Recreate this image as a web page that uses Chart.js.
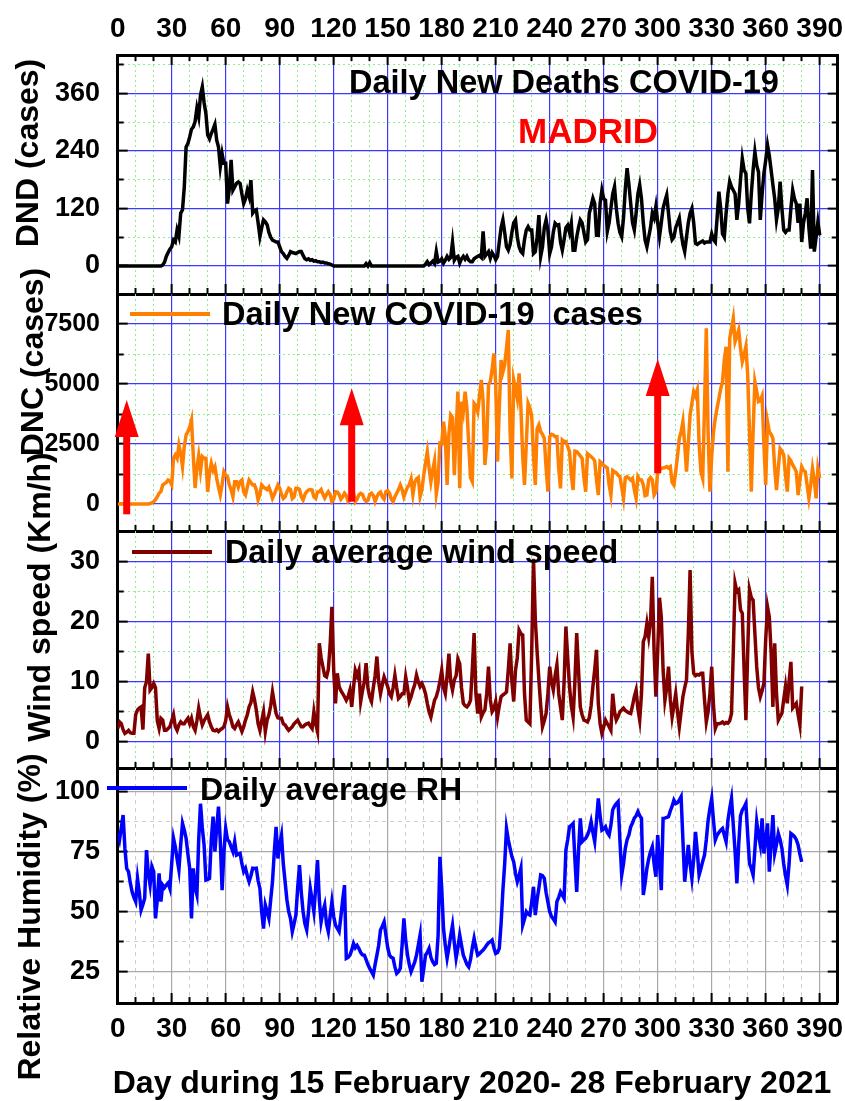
<!DOCTYPE html>
<html>
<head>
<meta charset="utf-8">
<script src="https://cdn.jsdelivr.net/npm/chart.js@4.4.1/dist/chart.umd.min.js"></script>
<style>
  html, body { margin: 0; padding: 0; background: #fff; }
  #wrap { position: relative; width: 845px; height: 1101px; }
  #wrap canvas { position: absolute; left: 0; top: 0; }
</style>
</head>
<body>
<div id="wrap">
  <canvas id="dnd" width="845" height="1101"></canvas>
  <canvas id="dnc" width="845" height="1101"></canvas>
  <canvas id="wind" width="845" height="1101"></canvas>
  <canvas id="rh" width="845" height="1101"></canvas>
</div>
<script>
// day axis
const dayTicks = [0, 30, 60, 90, 120, 150, 180, 210, 240, 270, 300, 330, 360, 390];
const dayMinorTicks = [10, 20, 40, 50, 70, 80, 100, 110, 130, 140, 160, 170, 190, 200, 220, 230,
  250, 260, 280, 290, 310, 320, 340, 350, 370, 380];

// y ticks per panel
const dndTicks = [0, 120, 240, 360];
const dndMinorTicks = [60, 180, 300, 420];
const dncTicks = [0, 2500, 5000, 7500];
const dncMinorTicks = [1250, 3750, 6250];
const windTicks = [0, 10, 20, 30];
const windMinorTicks = [5, 15, 25];
const rhTicks = [25, 50, 75, 100];
const rhMinorTicks = [37.5, 62.5, 87.5];

// daily new deaths, day 0..390
const dnd = [
  0,0,0,0,0,0,0,0,0,0,
  0,0,0,0,0,0,0,0,0,0,
  0,0,0,0,0,2,8,20,28,35,
  40,54,50,75,62,110,117,165,248,255,
  269,285,290,301,329,311,356,373,340,318,
  273,265,276,285,295,262,248,207,234,214,
  214,130,160,221,158,165,172,175,172,150,
  130,140,158,145,179,110,115,117,90,61,
  80,96,92,86,70,60,54,52,50,50,
  40,30,26,20,16,22,30,28,27,26,
  28,30,30,22,15,13,15,12,13,10,
  11,9,9,7,8,6,6,5,4,2,
  0,0,0,0,0,0,0,0,0,0,
  0,0,0,0,0,0,0,0,5,0,
  7,0,0,0,0,0,0,0,0,0,
  0,0,0,0,0,0,0,0,0,0,
  0,0,0,0,0,0,0,0,0,0,
  0,4,9,3,6,10,5,30,8,10,
  15,6,12,20,14,18,50,12,18,20,
  6,15,20,14,20,12,9,9,15,18,
  20,22,18,72,20,25,30,16,28,22,
  13,20,50,80,96,70,40,33,45,70,
  90,96,60,40,30,26,55,75,82,75,
  75,26,30,60,106,20,40,80,96,75,
  26,40,70,89,85,86,50,33,55,80,
  85,70,89,33,33,60,80,96,90,70,
  50,55,110,125,141,130,64,64,130,158,
  140,137,72,90,120,150,165,120,89,70,
  61,100,160,204,170,130,90,75,110,150,
  169,140,90,54,40,60,80,110,100,124,
  90,61,90,120,135,148,110,72,55,60,
  80,90,100,70,45,30,60,90,110,120,
  90,47,45,48,50,52,48,50,50,50,
  67,55,50,100,155,120,67,60,110,150,
  176,165,158,150,96,130,180,224,200,193,
  120,89,150,200,238,210,196,96,150,193,
  220,252,230,200,169,140,96,120,176,120,
  75,70,75,75,120,158,140,130,90,130,
  50,90,110,141,80,36,200,30,60,92,
  64
];

// daily new cases, day 0..390
const dnc = [
  0,0,0,0,0,0,0,0,0,0,
  0,0,0,0,0,0,0,0,20,50,
  100,180,305,450,520,792,850,900,1000,950,
  800,1903,2042,1900,2458,2100,1556,2400,2875,3014,
  3200,3500,2000,667,1500,2014,1375,1972,1903,1903,
  500,1300,1694,1400,1556,1069,700,375,800,1347,
  1200,1139,800,600,305,931,931,700,931,1000,
  500,375,700,1000,900,792,800,600,167,400,
  792,700,653,600,700,500,236,400,600,792,
  653,400,229,300,500,653,600,229,300,653,
  653,600,300,167,400,514,583,600,583,300,
  236,500,514,600,400,250,400,514,400,104,
  200,514,500,400,200,300,450,350,97,150,
  400,450,97,200,380,444,400,200,104,150,
  400,450,350,104,300,444,500,300,200,514,
  560,450,200,97,300,450,600,792,600,300,
  514,700,800,1042,400,900,1042,1100,305,600,
  1200,1700,2181,1500,931,1400,1800,417,900,2528,
  2500,3431,2800,792,2900,3708,3600,1200,3000,4681,
  653,4264,3847,4681,4000,2500,1100,931,4194,4100,
  3847,4500,5167,4300,1625,2500,4958,5097,5600,6278,
  5000,1764,4000,6000,5500,5792,6500,7250,3000,1069,
  5167,4800,4389,5444,4000,2000,800,2500,4194,4000,
  3667,2000,792,3125,3300,3014,2900,2736,1500,514,
  2806,2900,2875,2800,2806,1500,653,2667,2600,2600,
  2400,2181,1200,583,2200,2181,2100,2000,1903,1100,
  514,2100,2042,1972,1903,1800,1000,375,1764,1700,
  1600,1556,1500,800,375,1400,1347,1300,1200,1139,
  700,236,1100,1139,1069,1000,1069,600,236,1139,
  1000,1000,800,350,375,1000,1100,1000,375,500,
  1347,1400,1486,1500,1520,1556,1500,1556,900,792,
  1347,2000,2736,3000,3431,2500,1347,2500,3708,4200,
  4681,4500,4750,2500,1347,1069,4000,7319,3000,514,
  2000,3000,3569,4000,4389,4800,5097,6000,6555,1347,
  6903,7300,7736,6764,7000,7250,6500,5931,6200,6555,
  5375,3000,514,3000,5097,4700,4264,4300,4500,2500,
  792,3431,3014,2900,2736,1500,583,1500,2306,2200,
  2042,1200,514,1903,1800,1625,1500,1347,375,1000,
  1556,1400,1347,800,236,800,1486,1000,236,1486,
  1083
];

// daily average wind speed (km/h), day 0..380
const windSpeed = [
  2.2,3.3,3.0,2.0,1.4,1.6,1.9,1.5,1.4,1.4,
  4.5,5.3,5.6,5.8,2.0,9.0,10.0,14.7,8.6,9.0,
  9.7,9.0,3.5,2.2,3.9,3.6,1.9,1.9,2.2,2.5,
  3.5,4.5,2.5,1.9,2.8,3.3,3.0,3.0,3.5,3.9,
  3.0,3.9,2.5,1.9,3.5,5.6,4.0,2.8,3.5,4.0,
  4.5,3.3,2.5,1.9,1.8,2.0,1.7,2.0,2.2,2.5,
  3.5,5.8,4.5,3.6,2.5,2.2,2.8,3.3,2.5,1.7,
  2.5,3.6,4.5,5.8,6.5,8.3,7.0,5.3,3.0,1.9,
  3.5,5.0,1.7,3.6,4.5,6.0,8.3,6.5,4.7,4.0,
  3.9,3.9,3.0,2.8,2.3,1.9,2.2,2.5,3.0,3.3,
  3.6,3.0,2.5,2.5,2.8,3.0,3.1,2.6,2.2,5.0,
  3.0,1.7,16.4,14.0,12.5,11.0,10.8,12.0,16.0,22.5,
  11.9,6.4,11.4,9.2,8.5,8.0,7.5,6.9,7.5,8.6,
  5.8,9.0,11.9,11.0,11.9,6.7,8.5,10.0,13.1,9.0,
  7.5,6.7,9.0,11.0,14.2,10.0,8.0,9.5,10.8,10.0,
  9.2,8.0,7.5,9.0,11.1,9.0,7.2,7.5,8.0,8.0,
  10.8,9.0,6.7,7.5,8.6,9.5,11.1,10.0,9.2,9.7,
  9.0,8.0,6.4,5.0,4.1,5.5,6.9,7.5,8.6,10.0,
  11.9,9.0,8.0,11.0,14.7,10.0,8.6,10.3,11.0,13.8,
  13.0,9.0,6.4,6.0,5.8,6.2,6.9,12.0,18.1,8.0,
  4.7,8.0,4.1,4.8,5.3,8.0,12.5,7.0,5.0,5.5,
  6.7,4.1,6.0,7.5,7.8,8.0,8.3,12.0,16.4,10.0,
  6.7,11.9,14.0,18.6,18.0,17.8,8.0,3.6,3.3,3.0,
  15.0,30.5,20.4,15.0,10.3,6.0,2.5,3.5,4.7,8.0,
  12.5,10.0,8.6,11.0,12.8,8.0,5.8,3.6,10.0,19.2,
  14.0,9.2,6.0,4.1,10.0,18.1,12.0,5.8,4.5,3.6,
  3.5,3.3,4.0,6.0,9.2,12.0,15.3,6.4,3.0,1.4,
  2.5,3.6,3.0,2.5,1.9,8.0,5.0,3.6,4.2,5.0,
  5.3,5.6,5.2,5.0,4.8,4.7,6.0,7.5,8.6,5.5,
  3.6,8.0,16.7,17.5,19.7,17.5,20.0,27.5,15.0,7.5,
  15.0,24.0,20.8,12.0,6.9,9.0,12.5,7.0,4.1,6.0,
  8.0,5.0,2.5,5.0,7.5,9.0,10.3,18.0,28.6,15.0,
  11.4,11.0,11.2,11.1,11.4,11.4,7.0,3.3,5.0,8.0,
  12.5,6.0,2.2,3.0,3.0,3.1,3.3,3.0,3.2,3.1,
  3.5,4.7,15.0,26.4,25.0,25.3,22.0,21.4,12.0,3.6,
  15.0,25.3,24.0,23.6,18.0,12.5,9.0,7.5,8.5,9.7,
  17.0,22.5,20.8,15.0,5.8,16.4,8.0,3.6,4.2,4.7,
  7.0,9.2,6.4,10.0,13.3,5.6,6.0,6.4,4.5,2.8,
  9.2
];

// daily average relative humidity (%), day 0..380
const relHumidity = [
  82.6,79.9,85,90.3,76.4,68,66.7,62,58.3,56,
  54.2,63.9,58,50.7,53,55.6,75.7,66,61.1,68.8,
  66.7,47.2,55,66,54.2,61.1,60,61.1,62,59.7,
  70,80.6,77.1,72,67.4,78,86.8,84,80.6,74,
  68.1,47.2,68.1,60,57,80,95,85,77.8,63.2,
  63.5,63.9,80,89.6,75,85,93.8,79.2,59,75,
  84.7,80,79.2,77,75,79.2,73.6,74,74.3,70,
  66.7,68.1,65,62.5,65,68.1,68,68.1,63,59.7,
  50,43,52.8,50,47.2,55,62.5,75,85.4,72.2,
  78,81.9,70,62.5,55,50,47.2,41.7,45,48.6,
  60,69.4,58,50,45,42.4,50,59.7,55,50,
  60,71.5,55,45.8,50,52.8,45,41.7,48,54.2,
  48,44.4,43,41.7,48,55,61.1,30.6,31,31.9,
  34,36.8,35,36,34.7,33,32,31.9,30,28,
  26.4,25,23.6,28,31.9,36,42.4,44,45.8,40.3,
  35,31.9,31,30.6,27,24.3,25,26.4,36,47.2,
  38,31.9,28,25,27,29,31.9,36,40.3,20.8,
  26,31.9,33,34.7,31,29.2,28,28.5,40,72.9,
  60,43,36,30.6,35,40,44.4,37,30.6,35,
  40.3,36,31.9,30,28,27,30,35,38.9,35,
  31.9,32.5,33.3,34,35,36.1,37,37.5,38.2,35,
  32.6,33,34.7,45,59,70,84.7,80,76.4,73,
  70.8,66,62.5,65,68.1,44.4,47,50,49,48.6,
  54,60.4,48.6,55,60,65.3,65,63.9,58,54,
  50,48,47,45.8,54.2,56,58.3,57,55.6,75.7,
  80,85.4,86,86.8,72,58.3,75,88.9,79.2,80,
  80.6,82,84,87.5,83,79.2,88,97.2,90,84,
  84.5,85.4,83,81.9,86,92.4,94,95,95.8,80,
  65.3,70,76.4,80,82,85.4,87,89,90,91.7,
  90,88.9,57,62,68.1,72,75,77.1,70,64.6,
  81.9,70,59,88.9,89,89.3,89.6,92,94,96.5,
  95.1,95.5,96.5,97.9,80,62.5,70,77.8,70,63.9,
  72,83.3,75,65.3,68,71,73.6,80,88,93,
  97.2,88,79.9,81.9,83,84,84.7,82,79.2,88,
  93,97.2,86,75,61.8,78,90,92.4,93.5,95.1,
  82,70.1,68,65.3,76,87.5,82,77.8,88.9,74.3,
  80,86.8,66.7,78,90.3,74.3,78,82.6,80,76.4,
  70,65,61.1,70,82.6,82,81.3,80,77.8,74,
  70.8
];

// red arrows in the cases panel
const arrowDays = [5, 130, 300];
const arrowFrom = [-430, 96, 1279];
const arrowTo = [4333, 4820, 6042];

const FONT = '"Liberation Sans", Arial, Helvetica, sans-serif';
const INVIS = 'rgba(0,0,0,0)';
Chart.defaults.font.family = FONT;
Chart.defaults.color = '#000';

// text labels, rotated titles and legend samples
const textPlugin = {
  id: 'panelText',
  afterDraw(chart, args, opts) {
    const ctx = chart.ctx;
    (opts.lines || []).forEach(l => {
      ctx.save();
      ctx.strokeStyle = l.color;
      ctx.lineWidth = 4;
      ctx.beginPath();
      ctx.moveTo(l.x1, l.y);
      ctx.lineTo(l.x2, l.y);
      ctx.stroke();
      ctx.restore();
    });
    (opts.items || []).forEach(it => {
      ctx.save();
      ctx.font = 'bold ' + (it.size || 31) + 'px ' + FONT;
      ctx.fillStyle = it.color || '#000';
      ctx.textAlign = it.align || 'left';
      ctx.textBaseline = 'alphabetic';
      ctx.translate(it.x, it.y);
      if (it.rotate) ctx.rotate(-Math.PI / 2);
      ctx.fillText(it.text, 0, 0);
      ctx.restore();
    });
  }
};

const arrowPlugin = {
  id: 'arrows',
  afterDatasetsDraw(chart, args, opts) {
    if (!opts.days) return;
    const ctx = chart.ctx;
    const xs = chart.scales.x, ys = chart.scales.y;
    ctx.save();
    ctx.fillStyle = '#ff0000';
    opts.days.forEach((d, i) => {
      const px = xs.getPixelForValue(d);
      const yb = ys.getPixelForValue(opts.from[i]);
      const yt = ys.getPixelForValue(opts.to[i]);
      ctx.fillRect(px - 3.5, yt + 30, 7, yb - yt - 30);
      ctx.beginPath();
      ctx.moveTo(px, yt);
      ctx.lineTo(px + 12, yt + 37);
      ctx.lineTo(px - 12, yt + 37);
      ctx.closePath();
      ctx.fill();
    });
    ctx.restore();
  }
};
Chart.register(textPlugin, arrowPlugin);

const PAD_LEFT = 117.7;

function panelScales(cfg) {
  // size = space the box takes; labelled axes get real room because labels are clipped to their box.
  // label overhang padding is dropped so every panel keeps the same plot width
  const fit = size => s => {
    if (s.isHorizontal()) s.height = size; else s.width = size;
    s.paddingLeft = s.paddingRight = s.paddingTop = s.paddingBottom = 0;
  };
  const useTicks = list => s => { s.ticks = list.map(v => ({ value: v })); };
  const skip = (list, color) => c => (c.tick && list.includes(c.tick.value)) ? INVIS : color;
  const edgeOff = (lo, hi, color) => c => (c.tick && (c.tick.value <= lo || c.tick.value >= hi)) ? INVIS : color;
  const xBase = { type: 'linear', min: 0, max: 400 };
  const yBase = { type: 'linear', min: cfg.yMin, max: cfg.yMax };

  const major = (base, pos, list, labelled, font, pad, onArea, size) => ({
    ...base, position: pos, weight: size ? 2 : 0, afterFit: fit(size), afterBuildTicks: useTicks(list),
    grid: { drawOnChartArea: onArea, color: edgeOff(base.min, base.max, cfg.gridMajor), lineWidth: 1.2,
            tickLength: -10, tickWidth: 2, tickColor: '#000' },
    border: { display: true, color: '#000', width: 3 },
    ticks: { display: labelled, font: font, color: '#000', padding: pad, maxRotation: 0,
             autoSkip: false, callback: v => String(v) }
  });
  const minor = (base, pos, list, majorList, onArea) => ({
    ...base, position: pos, weight: 0, afterFit: fit(0), afterBuildTicks: useTicks(list),
    grid: { drawOnChartArea: onArea, color: skip(majorList, cfg.gridMinor), lineWidth: 1,
            tickLength: -6, tickWidth: 2, tickColor: '#000' },
    border: { display: false, dash: cfg.minorDash },
    ticks: { display: false }
  });

  const xFont = { size: 28, weight: 'bold', family: FONT };
  const scales = {
    x: major(xBase, 'bottom', dayTicks, !!cfg.bottomLabels, xFont, 19, true, cfg.bottomLabels ? 1101 - cfg.bottom : 0),
    xm: minor(xBase, 'bottom', dayMinorTicks, dayTicks, true),
    y: major(yBase, 'left', cfg.yTicks, true, cfg.yFont, 27.7, true, PAD_LEFT),
    ym: minor(yBase, 'left', cfg.yMinor, cfg.yTicks, true),
    yr: major(yBase, 'right', cfg.yTicks, false, cfg.yFont, 0, false, 0),
    yrm: minor(yBase, 'right', cfg.yMinor, cfg.yTicks, false)
  };
  if (cfg.topLabels) {
    scales.xt = major(xBase, 'top', dayTicks, true, xFont, 19, false, cfg.top);
    scales.xtm = minor(xBase, 'top', dayMinorTicks, dayTicks, false);
  }
  return scales;
}

function makePanel(id, values, color, cfg, plugins) {
  return new Chart(document.getElementById(id), {
    type: 'line',
    data: {
      datasets: [{
        data: values.map((v, i) => ({ x: i, y: v })),
        borderColor: color,
        borderWidth: 3.5,
        pointRadius: 0,
        tension: 0,
        xAxisID: 'x',
        yAxisID: 'y'
      }]
    },
    options: {
      responsive: false,
      animation: false,
      events: [],
      layout: { padding: {
        left: 0, right: 7.3,
        top: cfg.topLabels ? 0 : cfg.top,
        bottom: cfg.bottomLabels ? 0 : 1101 - cfg.bottom
      } },
      scales: panelScales(cfg),
      plugins: Object.assign({ legend: { display: false }, tooltip: { enabled: false } }, plugins)
    }
  });
}

const blueGrid = { gridMajor: '#3a3aff', gridMinor: '#8fee8f', minorDash: [2, 3] };
const greyGrid = { gridMajor: '#a8a8a8', gridMinor: '#cfcfcf', minorDash: [4, 4] };
const yFontStd = { size: 27, weight: 'bold', family: FONT };
const yFontNarrow = { size: 25, weight: 'bold', family: '"Liberation Sans Narrow", "Arial Narrow", ' + FONT };

makePanel('dnd', dnd, '#000000', Object.assign({
  top: 55, bottom: 294, yMin: -58.33, yMax: 439.6, yTicks: dndTicks, yMinor: dndMinorTicks,
  yFont: yFontStd, topLabels: true
}, blueGrid), {
  panelText: { items: [
    { text: 'DND (cases)', x: 38, y: 153, rotate: true, align: 'center', size: 32 },
    { text: 'Daily New Deaths COVID-19', x: 349, y: 93, size: 32.5 },
    { text: 'MADRID', x: 518, y: 143, size: 35, color: '#ff0000' }
  ] }
});

makePanel('dnc', dnc, '#ff8000', Object.assign({
  top: 294, bottom: 531, yMin: -1125, yMax: 8750, yTicks: dncTicks, yMinor: dncMinorTicks,
  yFont: yFontNarrow
}, blueGrid), {
  panelText: {
    lines: [{ x1: 130, x2: 210, y: 314, color: '#ff8000' }],
    items: [
      { text: 'DNC (cases)', x: 43, y: 362, rotate: true, align: 'center', size: 32 },
      { text: 'Daily New COVID-19  cases', x: 222, y: 325, size: 32.5 }
    ]
  },
  arrows: { days: arrowDays, from: arrowFrom, to: arrowTo }
});

makePanel('wind', windSpeed, '#800000', Object.assign({
  top: 531, bottom: 768, yMin: -4.38, yMax: 35.12, yTicks: windTicks, yMinor: windMinorTicks,
  yFont: yFontStd
}, blueGrid), {
  panelText: {
    lines: [{ x1: 132, x2: 212, y: 552, color: '#800000' }],
    items: [
      { text: 'Wind speed (Km/h)', x: 50, y: 597, rotate: true, align: 'center', size: 32 },
      { text: 'Daily average wind speed', x: 225, y: 563, size: 32.3 }
    ]
  }
});

makePanel('rh', relHumidity, '#0000ff', Object.assign({
  top: 768, bottom: 1003, yMin: 11.96, yMax: 109.9, yTicks: rhTicks, yMinor: rhMinorTicks,
  yFont: yFontStd, bottomLabels: true
}, greyGrid), {
  panelText: {
    lines: [{ x1: 107, x2: 187, y: 788, color: '#0000ff' }],
    items: [
      { text: 'Relative Humidity (%)', x: 40, y: 917, rotate: true, align: 'center', size: 32 },
      { text: 'Daily average RH', x: 200, y: 800, size: 32.1 },
      { text: 'Day during 15 February 2020- 28 February 2021', x: 472, y: 1093, align: 'center', size: 32 }
    ]
  }
});
</script>
</body>
</html>
